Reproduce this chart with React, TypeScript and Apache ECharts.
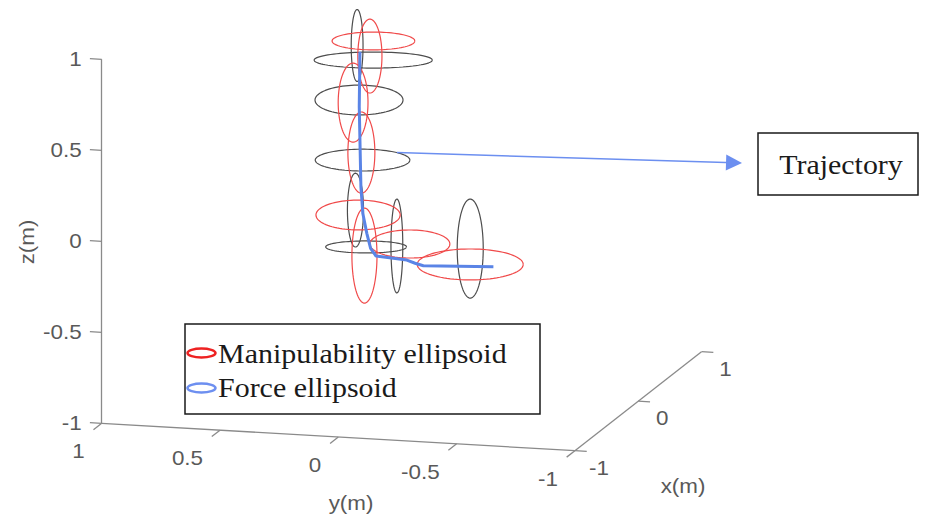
import React, { useEffect, useRef } from 'react';
import * as echarts from 'echarts';

// ---- axis ticks ----
const zTicks = [-1, -0.5, 0, 0.5, 1];
const zTickLabels = ['-1', '-0.5', '0', '0.5', '1'];
const yTicks = [1, 0.5, 0, -0.5, -1];
const yTickLabels = ['1', '0.5', '0', '-0.5', '-1'];
const xTicks = [-1, 0, 1];
const xTickLabels = ['-1', '0', '1'];

// ---- ellipses: [y, z, radiusY, radiusZ] (all at x = 0) ----
const manipulabilityEllipses = [
  [0.119, 0.895, 0.175, 0.049],
  [0.134, 0.811, 0.051, 0.203],
  [0.205, 0.55, 0.063, 0.217],
  [0.17, 0.278, 0.057, 0.223],
  [0.184, -0.066, 0.178, 0.082],
  [0.157, -0.287, 0.053, 0.261],
  [-0.035, -0.209, 0.169, 0.077],
  [-0.29, -0.302, 0.224, 0.085],
];
const forceEllipses = [
  [0.188, 0.865, 0.025, 0.198],
  [0.12, 0.79, 0.25, 0.044],
  [0.18, 0.566, 0.186, 0.082],
  [0.165, 0.237, 0.2, 0.06],
  [0.195, -0.04, 0.034, 0.203],
  [0.02, -0.224, 0.025, 0.258],
  [0.15, -0.239, 0.171, 0.033],
  [-0.29, -0.215, 0.055, 0.272],
];

// ---- trajectory (x = 0) ----
const trajectoryY = [0.176, 0.179, 0.172, 0.164, 0.147, 0.131, 0.108, -0.022, -0.057, -0.092, -0.388];
const trajectoryZ = [0.832, 0.529, 0.09, -0.055, -0.164, -0.245, -0.286, -0.298, -0.313, -0.324, -0.307];

// ---- callout arrow (x, y, z) ----
const calloutStart = [0, 0.02, 0.29];
const calloutEnd = [0, -1.405, 0.34];

// ---- projection of the 3D box onto the page ----
const ORIGIN = [101.7, 423.3];
const Y_DIR = [236.6, 13.7];
const X_DIR = [63.3, -49.5];
const Z_SCALE = 182;

function project(x: number, y: number, z: number): [number, number] {
  return [
    ORIGIN[0] + Y_DIR[0] * (1 - y) + X_DIR[0] * (x + 1),
    ORIGIN[1] + Y_DIR[1] * (1 - y) + X_DIR[1] * (x + 1) - Z_SCALE * (z + 1),
  ];
}

function ellipsePoints(e: number[]): [number, number][] {
  const [cy, cz, ry, rz] = e;
  const c = project(0, cy, cz);
  const hw = ry * Y_DIR[0];
  const hh = rz * Z_SCALE;
  const pts: [number, number][] = [];
  const n = 90;
  for (let i = 0; i <= n; i++) {
    const t = (2 * Math.PI * i) / n;
    pts.push([c[0] + hw * Math.cos(t), c[1] - hh * Math.sin(t)]);
  }
  return pts;
}

const AXIS_COLOR = '#8a8a8a';
const TEXT_COLOR = '#595959';
const SANS = '"Liberation Sans", Arial, Helvetica, sans-serif';
const SERIF = '"Liberation Serif", "Times New Roman", serif';

function label(text: string, x: number, y: number, align: string, extra: any = {}) {
  return {
    type: 'text',
    x,
    y,
    scaleX: 1.12,
    silent: true,
    ...extra,
    style: {
      text,
      fontSize: 20,
      fontFamily: SANS,
      fill: TEXT_COLOR,
      align,
      textAlign: align,
      verticalAlign: 'middle',
      textVerticalAlign: 'middle',
    },
  };
}

function serifText(text: string, x: number, y: number, align: string) {
  return {
    type: 'text',
    x,
    y,
    scaleX: 1.07,
    silent: true,
    z: 20,
    style: {
      text,
      fontSize: 28,
      fontFamily: SERIF,
      fill: '#1a1a1a',
      align,
      textAlign: align,
      verticalAlign: 'middle',
      textVerticalAlign: 'middle',
    },
  };
}

export default function App() {
  const ref = useRef<HTMLDivElement>(null);

  useEffect(() => {
    if (!ref.current) return;
    const chart = echarts.init(ref.current, null, { renderer: 'svg' });

    const axisSegments = [
      [project(-1, 1, -1), project(-1, 1, 1)],
      [project(-1, 1, -1), project(-1, -1, -1)],
      [project(-1, -1, -1), project(1, -1, -1)],
    ];
    zTicks.forEach((z) => axisSegments.push([project(-1, 1, z), project(-1, 1.05, z)]));
    yTicks.forEach((y) => axisSegments.push([project(-1, y, -1), project(-1.13, y, -1)]));
    xTicks.forEach((x) => axisSegments.push([project(x, -1, -1), project(x, -1.05, -1)]));

    const series: any[] = [
      {
        type: 'lines',
        coordinateSystem: 'cartesian2d',
        polyline: false,
        silent: true,
        symbol: 'none',
        lineStyle: { color: AXIS_COLOR, width: 1.3, opacity: 1 },
        data: axisSegments.map((s) => ({ coords: s })),
        z: 1,
      },
    ];

    forceEllipses.forEach((e) =>
      series.push({
        type: 'line',
        data: ellipsePoints(e),
        symbol: 'none',
        silent: true,
        lineStyle: { color: '#4d4d4d', width: 1.2 },
        z: 2,
      })
    );
    manipulabilityEllipses.forEach((e) =>
      series.push({
        type: 'line',
        data: ellipsePoints(e),
        symbol: 'none',
        silent: true,
        lineStyle: { color: '#f04a4a', width: 1.2 },
        z: 3,
      })
    );

    series.push({
      type: 'line',
      data: trajectoryY.map((y, i) => project(0, y, trajectoryZ[i])),
      symbol: 'none',
      silent: true,
      lineStyle: { color: '#5a84e6', width: 3 },
      z: 5,
    });

    series.push({
      type: 'lines',
      coordinateSystem: 'cartesian2d',
      silent: true,
      symbol: ['none', 'triangle'],
      symbolSize: [14, 16],
      lineStyle: { color: '#6c8ff0', width: 1.5, opacity: 1 },
      itemStyle: { color: '#6c8ff0' },
      data: [
        {
          coords: [
            project(calloutStart[0], calloutStart[1], calloutStart[2]),
            project(calloutEnd[0], calloutEnd[1], calloutEnd[2]),
          ],
        },
      ],
      z: 4,
    });

    const graphics: any[] = [];
    zTicks.forEach((z, i) => {
      const p = project(-1, 1, z);
      graphics.push(label(zTickLabels[i], p[0] - 20, p[1], 'right'));
    });
    yTicks.forEach((y, i) => {
      const p = project(-1, y, -1);
      graphics.push(label(yTickLabels[i], p[0] - 17, p[1] + 28, 'right'));
    });
    xTicks.forEach((x, i) => {
      const p = project(x, -1, -1);
      graphics.push(label(xTickLabels[i], p[0] + 24, p[1] + 17, 'center'));
    });
    graphics.push(label('z(m)', 27, 242, 'center', { rotation: Math.PI / 2 }));
    graphics.push(label('y(m)', 351, 503, 'center'));
    graphics.push(label('x(m)', 683, 486, 'center'));

    // Trajectory box
    graphics.push({
      type: 'rect',
      shape: { x: 758, y: 133, width: 160, height: 62 },
      style: { fill: '#ffffff', stroke: '#1a1a1a', lineWidth: 1.5 },
      silent: true,
      z: 10,
    });
    graphics.push(serifText('Trajectory', 841, 164, 'center'));

    // Legend box
    graphics.push({
      type: 'rect',
      shape: { x: 185, y: 324, width: 355, height: 90 },
      style: { fill: '#ffffff', stroke: '#1a1a1a', lineWidth: 1.5 },
      silent: true,
      z: 10,
    });
    graphics.push({
      type: 'ellipse',
      shape: { cx: 201.5, cy: 353, rx: 14, ry: 4.5 },
      style: { fill: 'none', stroke: '#ee2222', lineWidth: 2.5 },
      silent: true,
      z: 20,
    });
    graphics.push({
      type: 'ellipse',
      shape: { cx: 201.5, cy: 388, rx: 14, ry: 4.5 },
      style: { fill: 'none', stroke: '#6d8ff0', lineWidth: 2.5 },
      silent: true,
      z: 20,
    });
    graphics.push(serifText('Manipulability ellipsoid', 218, 353.5, 'left'));
    graphics.push(serifText('Force ellipsoid', 218, 387.5, 'left'));

    chart.setOption({
      animation: false,
      backgroundColor: '#ffffff',
      grid: { left: 0, right: 0, top: 0, bottom: 0, containLabel: false },
      xAxis: { type: 'value', min: 0, max: 934, show: false },
      yAxis: { type: 'value', min: 0, max: 521, inverse: true, show: false },
      series,
      graphic: { elements: graphics },
    });

    return () => chart.dispose();
  }, []);

  return (
    <div
      ref={ref}
      style={{ position: 'absolute', left: 0, top: 0, width: 934, height: 521 }}
    />
  );
}
